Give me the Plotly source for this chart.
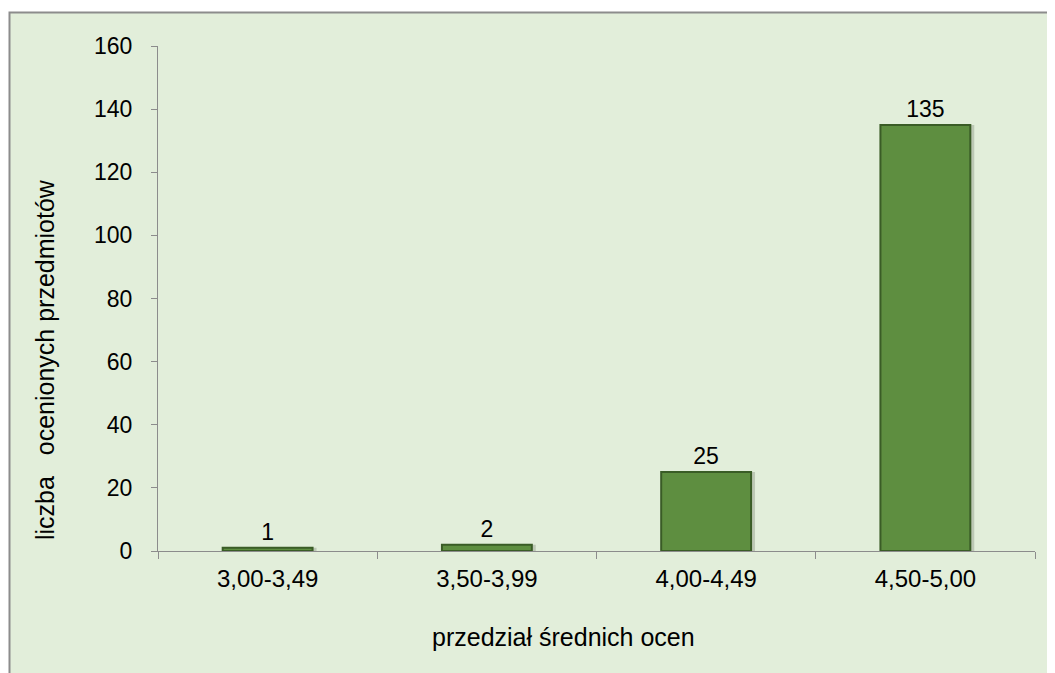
import plotly.graph_objects as go

categories = ["3,00-3,49", "3,50-3,99", "4,00-4,49", "4,50-5,00"]
values = [1, 2, 25, 135]
y_ticks = [0, 20, 40, 60, 80, 100, 120, 140, 160]

OFF = 8  # page body margin
W, H = 1055, 673
L, T = 158 - OFF, 46 - OFF
R = W - (1035 - OFF)
B = H - (551 - OFF)
pw = W - L - R
ph = H - T - B

def px(x):
    return (x - OFF - L) / pw

def py(y):
    return (H - B - (y - OFF)) / ph

FONT = "Liberation Sans, Arial, sans-serif"
BW = 0.41

fig = go.Figure()
# soft shadow to the right of each bar
fig.add_trace(go.Bar(
    x=categories, y=values, width=BW, offset=-BW / 2 + 0.018,
    marker=dict(color="rgba(60,70,50,0.22)", line=dict(width=0)),
    hoverinfo="skip", cliponaxis=False,
))
fig.add_trace(go.Bar(
    x=categories, y=values, width=BW, offset=-BW / 2,
    marker=dict(color="#5E8E40", line=dict(color="#3A5C26", width=2)),
    text=[str(v) for v in values], textposition="outside",
    textfont=dict(family=FONT, size=23, color="#000000"),
    cliponaxis=False,
))

fig.update_layout(
    width=W, height=H,
    margin=dict(l=L, r=R, t=T, b=B),
    paper_bgcolor="white", plot_bgcolor="rgba(0,0,0,0)",
    showlegend=False, barmode="overlay",
    font=dict(family=FONT, size=23, color="#000000"),
    shapes=[dict(type="rect", xref="paper", yref="paper", layer="below",
                 x0=px(9.5), x1=px(1080), y0=py(700), y1=py(12.5),
                 fillcolor="#E2EEDA", line=dict(color="#8C8C8C", width=2))],
    annotations=[
        dict(text="przedział średnich ocen", xref="paper", yref="paper",
             x=px(563), y=py(637), showarrow=False,
             font=dict(family=FONT, size=25, color="#000000"),
             xanchor="center", yanchor="middle"),
        dict(text="liczba\u00a0\u00a0\u00a0ocenionych przedmiotów", xref="paper", yref="paper",
             x=px(45), y=py(360), showarrow=False, textangle=-90,
             font=dict(family=FONT, size=25, color="#000000"),
             xanchor="center", yanchor="middle"),
    ],
)

fig.update_xaxes(
    type="category", showline=True, linecolor="#8C8C8C", linewidth=1,
    ticks="outside", tickson="boundaries", ticklen=7, tickcolor="#8C8C8C",
    showgrid=False, zeroline=False, ticklabelstandoff=6,
    tickfont=dict(family=FONT, size=24, color="#000000"),
)
fig.update_yaxes(
    range=[0, 160], tickvals=y_ticks, ticktext=[str(v) for v in y_ticks],
    showline=True, linecolor="#8C8C8C", linewidth=1,
    ticks="outside", ticklen=6, tickcolor="#8C8C8C",
    showgrid=False, zeroline=False, ticklabelstandoff=14,
    tickfont=dict(family=FONT, size=23, color="#000000"),
)

fig.write_html("out.html")
